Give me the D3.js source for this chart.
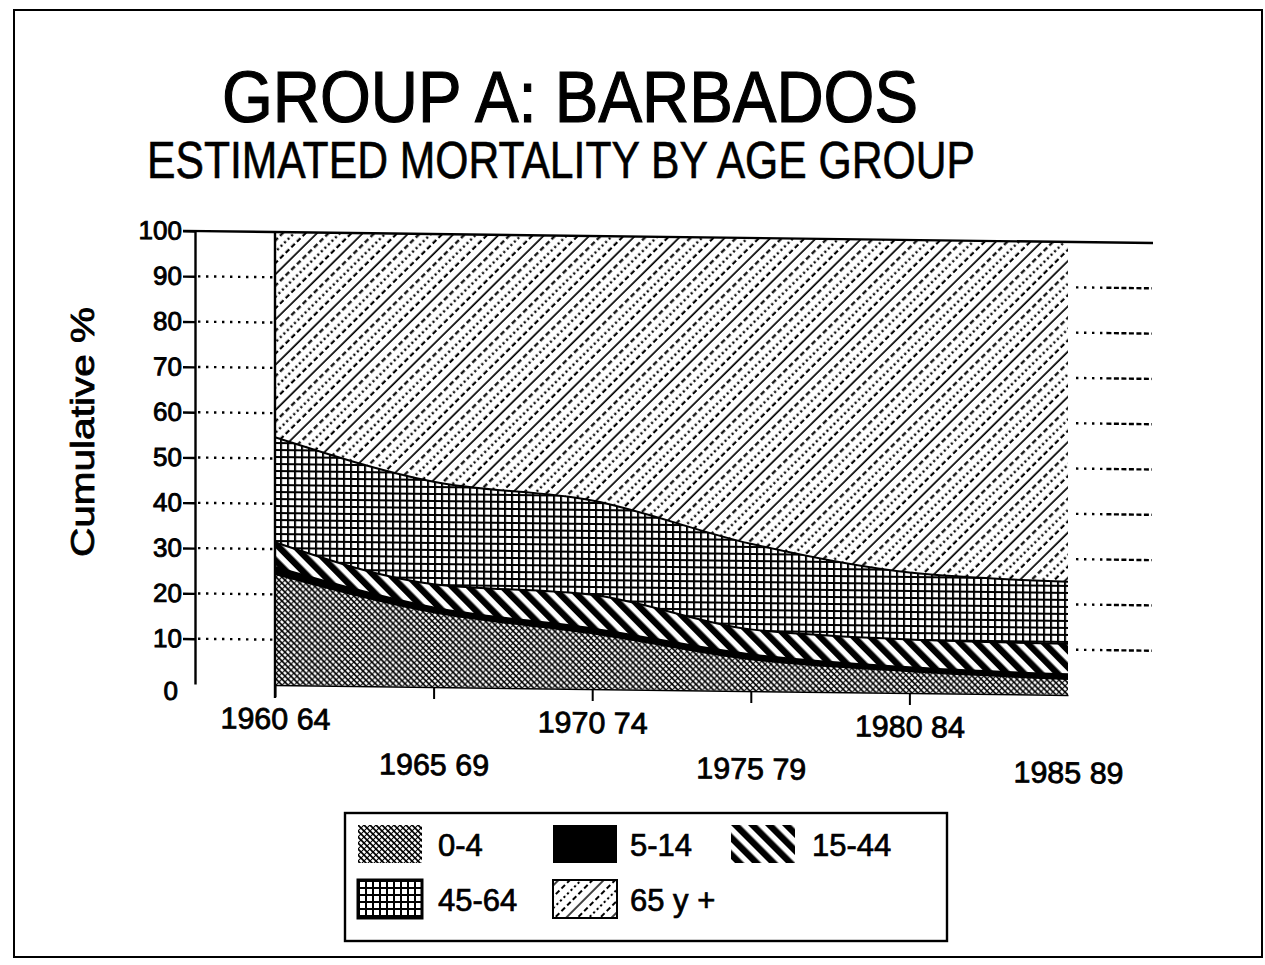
<!DOCTYPE html>
<html>
<head>
<meta charset="utf-8">
<script src="https://cdn.jsdelivr.net/npm/d3@7"></script>
<style>
  html, body { margin: 0; padding: 0; background: #fff; }
  svg { display: block; }
  text { font-family: "Liberation Sans", Arial, Helvetica, sans-serif; fill: #000; }
</style>
</head>
<body>
<svg id="chart" width="1265" height="965"></svg>
<script>
// ---- data ----
const periods = ["1960 64", "1965 69", "1970 74", "1975 79", "1980 84", "1985 89"];
const ageGroups = ["0-4", "5-14", "15-44", "45-64", "65 y +"];
const age0to4   = [24.5, 16.5, 12.3, 7.0, 4.8, 3.5];
const age5to14  = [1.5, 1.0, 1.0, 1.0, 0.8, 1.0];
const age15to44 = [5.5, 5.2, 7.5, 5.6, 6.2, 6.8];
const age45to64 = [23.2, 22.6, 20.8, 18.9, 14.8, 13.7];
const age65plus = [45.3, 54.7, 58.4, 67.5, 73.4, 75.0];
const yTickValues = [0, 10, 20, 30, 40, 50, 60, 70, 80, 90, 100];
const titleText = "GROUP A: BARBADOS";
const subtitleText = "ESTIMATED MORTALITY BY AGE GROUP";
const yLabelText = "Cumulative %";

const seriesValues = [age0to4, age5to14, age15to44, age45to64, age65plus];
const rows = periods.map((p, i) => {
  const r = { period: p };
  ageGroups.forEach((g, k) => { r[g] = seriesValues[k][i]; });
  return r;
});

const svg = d3.select("#chart");
const defs = svg.append("defs");

// ---- patterns ----
// 0-4 : dense cross-hatch with "\" emphasis
const p0 = defs.append("pattern").attr("id", "p04").attr("patternUnits", "userSpaceOnUse")
  .attr("width", 6).attr("height", 6);
p0.append("rect").attr("width", 6).attr("height", 6).attr("fill", "#fff");
p0.append("path").attr("d", "M0,0L6,6M-1,5L1,7M5,-1L7,1").attr("stroke", "#000").attr("stroke-width", 1.7);
p0.append("path").attr("d", "M6,0L0,6").attr("stroke", "#000").attr("stroke-width", 1.1);

// 15-44 : thick "\" stripes
const p2 = defs.append("pattern").attr("id", "p1544").attr("patternUnits", "userSpaceOnUse")
  .attr("width", 12).attr("height", 12).attr("patternTransform", "rotate(-45)");
p2.append("rect").attr("width", 12).attr("height", 12).attr("fill", "#fff");
p2.append("rect").attr("width", 6.5).attr("height", 12).attr("fill", "#000");

// 45-64 : grid
const p3 = defs.append("pattern").attr("id", "p4564").attr("patternUnits", "userSpaceOnUse")
  .attr("width", 7).attr("height", 7);
p3.append("rect").attr("width", 7).attr("height", 7).attr("fill", "#fff");
p3.append("path").attr("d", "M1,0V7M0,1H7").attr("stroke", "#000").attr("stroke-width", 2);

// 65 y + : "/" lines, solid / dashed / dotted / dashed
const p4 = defs.append("pattern").attr("id", "p65").attr("patternUnits", "userSpaceOnUse")
  .attr("width", 40).attr("height", 32).attr("patternTransform", "rotate(-45)");
p4.append("rect").attr("width", 40).attr("height", 32).attr("fill", "#fff");
p4.append("path").attr("d", "M0,4H40").attr("stroke", "#000").attr("stroke-width", 1.7);
p4.append("path").attr("d", "M0,12H40").attr("stroke", "#000").attr("stroke-width", 2).attr("stroke-dasharray", "5,3");
p4.append("path").attr("d", "M0,20H40").attr("stroke", "#000").attr("stroke-width", 2.2).attr("stroke-dasharray", "2.2,2.8");
p4.append("path").attr("d", "M0,28H40").attr("stroke", "#000").attr("stroke-width", 2).attr("stroke-dasharray", "5,3");

const fills = { "0-4": "url(#p04)", "5-14": "#000", "15-44": "url(#p1544)", "45-64": "url(#p4564)", "65 y +": "url(#p65)" };

// ---- outer frame ----
svg.append("rect").attr("x", 14).attr("y", 10).attr("width", 1248).attr("height", 947)
  .attr("fill", "none").attr("stroke", "#000").attr("stroke-width", 2);

// ---- titles ----
svg.append("text").attr("x", 570).attr("y", 122).attr("text-anchor", "middle")
  .attr("font-size", 73).attr("textLength", 696).attr("lengthAdjust", "spacingAndGlyphs")
  .attr("stroke", "#000").attr("stroke-width", 1.2)
  .text(titleText);
svg.append("text").attr("x", 561).attr("y", 178).attr("text-anchor", "middle")
  .attr("font-size", 52).attr("textLength", 828).attr("lengthAdjust", "spacingAndGlyphs")
  .attr("stroke", "#000").attr("stroke-width", 0.6)
  .text(subtitleText);

// y label
svg.append("text").attr("transform", "translate(94,432) rotate(-90)").attr("text-anchor", "middle")
  .attr("font-size", 33).attr("textLength", 250).attr("lengthAdjust", "spacingAndGlyphs")
  .attr("stroke", "#000").attr("stroke-width", 0.8)
  .text(yLabelText);

// ---- plot (slightly skewed, like the scan) ----
const skewDeg = 0.72;
const t = Math.tan(skewDeg * Math.PI / 180);
const plot = svg.append("g").attr("transform", `translate(0,${-195 * t}) skewY(${skewDeg})`);

const x = d3.scalePoint().domain(periods).range([275, 1068]);
const y = d3.scaleLinear().domain([0, 100]).range([684, 231]);

// dotted gridlines (left part and right part)
const gridVals = yTickValues.filter(v => v > 0 && v < 100);
plot.append("g").selectAll("line").data(gridVals).join("line")
  .attr("x1", 198).attr("x2", 274).attr("y1", d => y(d)).attr("y2", d => y(d))
  .attr("stroke", "#000").attr("stroke-width", 2.4).attr("stroke-dasharray", "2.4,5.6");
plot.append("g").selectAll("line").data(gridVals).join("line")
  .attr("x1", 1076).attr("x2", 1152).attr("y1", d => y(d)).attr("y2", d => y(d))
  .attr("stroke", "#000").attr("stroke-width", 2.4)
  .attr("stroke-dasharray", "2.4,5.6,2.4,5.6,2.4,5.6,2.4,4,5,2.5,5,2.5,5,2.5,5,2.5,5,2.5,5,2.5");

// stacked areas
const stacked = d3.stack().keys(ageGroups)(rows);
const area = d3.area().x(d => x(d.data.period)).y0(d => y(d[0])).y1(d => y(d[1])).curve(d3.curveMonotoneX);
const topLine = d3.line().x(d => x(d.data.period)).y(d => y(d[1])).curve(d3.curveMonotoneX);

plot.append("g").selectAll("path").data(stacked).join("path")
  .attr("d", area).attr("fill", d => fills[d.key]).attr("stroke", "none");
plot.append("g").selectAll("path").data(stacked.filter(s => s.key !== "65 y +")).join("path")
  .attr("d", topLine).attr("fill", "none").attr("stroke", "#000")
  .attr("stroke-width", d => d.key === "5-14" ? 2.6 : 2);

// 100 line and left edge of the area
plot.append("line").attr("x1", 183).attr("x2", 1153).attr("y1", y(100)).attr("y2", y(100))
  .attr("stroke", "#000").attr("stroke-width", 2.4);
plot.append("line").attr("x1", x(periods[0])).attr("x2", x(periods[0]))
  .attr("y1", y(100)).attr("y2", y(0) + 13).attr("stroke", "#000").attr("stroke-width", 2.4);

// y axis
const yAxis = plot.append("g").attr("transform", "translate(195,0)")
  .call(d3.axisLeft(y).tickValues(yTickValues).tickSize(12).tickSizeOuter(0).tickPadding(1));
yAxis.select(".domain").attr("stroke", "#000").attr("stroke-width", 2.4);
yAxis.selectAll(".tick line").attr("stroke", "#000").attr("stroke-width", 2.4)
  .filter(d => d === 0).remove();
yAxis.selectAll(".tick text").attr("font-size", 26).attr("fill", "#000")
  .attr("stroke", "#000").attr("stroke-width", 0.9)
  .attr("font-family", "'Liberation Sans', Arial, sans-serif")
  .filter(d => d === 0).attr("dx", -4).attr("dy", "0.6em");

// x axis
const xAxis = plot.append("g").attr("transform", `translate(0,${y(0)})`)
  .call(d3.axisBottom(x).tickSize(12).tickSizeOuter(0).tickPadding(2));
xAxis.select(".domain").attr("stroke", "#000").attr("stroke-width", 1.5);
xAxis.selectAll(".tick line").attr("stroke", "#000").attr("stroke-width", 2)
  .filter((d, i) => i === periods.length - 1).remove();
xAxis.selectAll(".tick text").attr("font-size", 30).attr("fill", "#000")
  .attr("stroke", "#000").attr("stroke-width", 0.8)
  .attr("textLength", 110).attr("lengthAdjust", "spacingAndGlyphs")
  .attr("font-family", "'Liberation Sans', Arial, sans-serif")
  .attr("dy", null)
  .attr("y", (d, i) => (i % 2 === 0 ? 44 : 88));

// ---- legend ----
const legend = svg.append("g");
legend.append("rect").attr("x", 345).attr("y", 813).attr("width", 602).attr("height", 128)
  .attr("fill", "#fff").attr("stroke", "#000").attr("stroke-width", 2.4);
const legendCols = [358, 553, 731];
const legendTextX = [438, 630, 812];
const legendRows = [825, 880];
const items = legend.selectAll("g.item").data(ageGroups).join("g").attr("class", "item")
  .attr("transform", (d, i) => `translate(${legendCols[i % 3]},${legendRows[Math.floor(i / 3)]})`);
items.append("rect").attr("width", 64).attr("height", 38)
  .attr("fill", d => fills[d])
  .attr("stroke", d => (d === "45-64" || d === "65 y +") ? "#000" : "none")
  .attr("stroke-width", d => d === "45-64" ? 3 : 2);
items.append("text").attr("x", (d, i) => legendTextX[i % 3] - legendCols[i % 3]).attr("y", 31)
  .attr("font-size", 31).attr("stroke", "#000").attr("stroke-width", 0.7).text(d => d);
</script>
</body>
</html>
